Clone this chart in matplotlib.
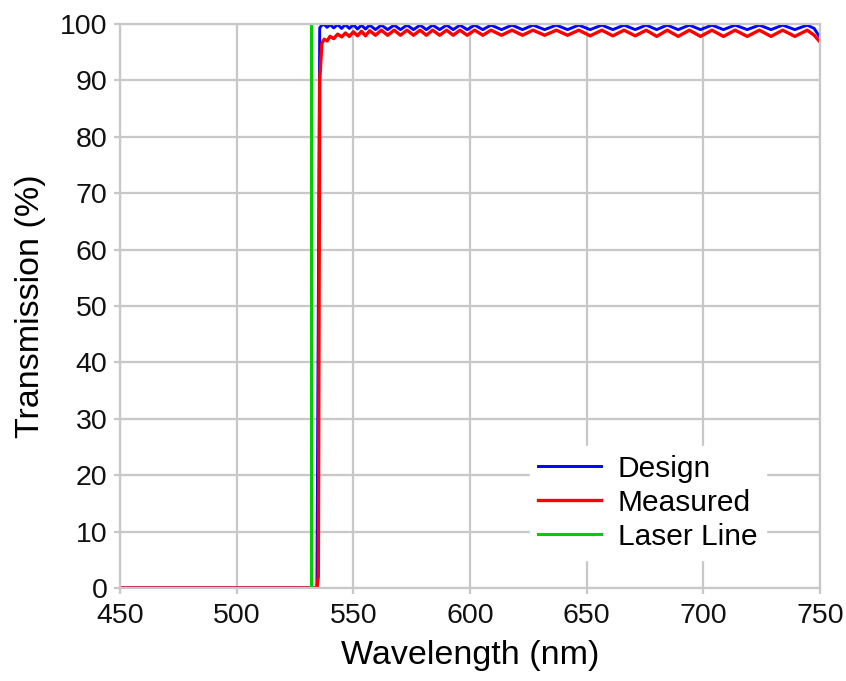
import matplotlib
matplotlib.use('Agg')
import matplotlib.pyplot as plt

plt.rcParams['font.family'] = ['Liberation Sans', 'DejaVu Sans']

# wavelength grid (edge, then ripple crests/troughs)
wl = [450, 534.4, 535.0, 535.6, 536.5, 537.5, 538.8, 540, 541.6, 543.3, 545,
      546.6, 548.3, 550, 551.8, 553.5, 555.2, 557, 559.5, 562, 564.7, 567.5,
      570.2, 573, 575.8, 578.6, 581.3, 584, 587, 590, 592.8, 595.7, 598.8, 602,
      605.5, 609, 613.5, 618, 622.5, 627, 632, 637, 641.8, 646.6, 651.5, 656.5,
      661.2, 666, 670.8, 675.5, 680, 684.5, 689.2, 694, 698.8, 703.7, 708.6,
      713.6, 718.8, 724, 729, 734, 739.2, 744.5, 747.5, 750]

design = [0, 0, 50, 99.3, 99.8, 99.9, 99.4, 99.9, 99.3, 99.9, 99.2,
          99.9, 99.2, 99.9, 99.1, 99.8, 99.1, 99.8, 99.0, 99.8, 99.0, 99.8,
          99.0, 99.8, 99.0, 99.8, 99.0, 99.8, 99.0, 99.8, 99.0, 99.8, 99.0, 99.8,
          99.0, 99.8, 99.0, 99.8, 99.0, 99.8, 99.0, 99.8, 99.0, 99.8, 99.0, 99.8,
          99.0, 99.8, 99.0, 99.8, 99.0, 99.8, 99.0, 99.8, 99.0, 99.8, 99.0,
          99.8, 99.0, 99.8, 99.0, 99.8, 99.0, 99.8, 99.2, 97.6]

measured = [0, 0, 2, 90, 96.5, 97.3, 97.0, 97.8, 97.4, 98.2, 97.7,
            98.4, 97.8, 98.6, 97.9, 98.7, 97.9, 98.8, 98.0, 98.9, 98.0, 98.9,
            98.0, 98.9, 98.0, 98.9, 98.0, 98.9, 98.0, 98.9, 98.0, 98.9, 98.0, 98.9,
            98.0, 98.9, 98.0, 98.9, 98.0, 98.9, 98.0, 98.9, 98.0, 98.9, 97.9, 98.9,
            97.9, 98.9, 97.9, 98.9, 97.8, 98.9, 97.8, 98.9, 97.8, 98.9, 97.8,
            98.9, 97.8, 98.9, 97.8, 98.9, 97.8, 98.9, 98.0, 96.8]

laser_wl = [532, 532]
laser_t = [0, 100]

grid_col = '#c8c8c8'

fig = plt.figure(figsize=(8.46, 6.81), dpi=100)
ax = fig.add_axes([0.1418, 0.1366, 0.8275, 0.8282])

ax.plot(wl, design, color='#0000ff', lw=2.1, label='Design')
ax.plot(wl, measured, color='#ff0000', lw=2.4, label='Measured')
ax.plot(laser_wl, laser_t, color='#00cc00', lw=2.2, label='Laser Line')

ax.set_xlim(450, 750)
ax.set_ylim(0, 100)
ax.set_xticks(range(450, 751, 50))
ax.set_yticks(range(0, 101, 10))
ax.grid(True, color=grid_col, lw=1.6)
ax.set_axisbelow(True)
for s in ax.spines.values():
    s.set_color(grid_col)
    s.set_linewidth(1.6)
ax.tick_params(colors=grid_col, labelcolor='#111111', labelsize=20.5,
               length=4, width=1.6)
ax.tick_params(axis='x', pad=7)
ax.tick_params(axis='y', pad=5)

ax.set_xlabel('Wavelength (nm)', fontsize=24.5, labelpad=8)
ax.set_ylabel('Transmission (%)', fontsize=24.5, labelpad=10)

leg = ax.legend(loc='upper left', bbox_to_anchor=(0.585, 0.252),
                borderaxespad=0, fontsize=21.5, frameon=True, fancybox=False,
                handlelength=2.1, handletextpad=0.55, labelspacing=0.2,
                borderpad=0.3)
leg.get_frame().set_facecolor('white')
leg.get_frame().set_edgecolor('white')
leg.get_frame().set_alpha(1)

fig.savefig('out.png', dpi=100)
